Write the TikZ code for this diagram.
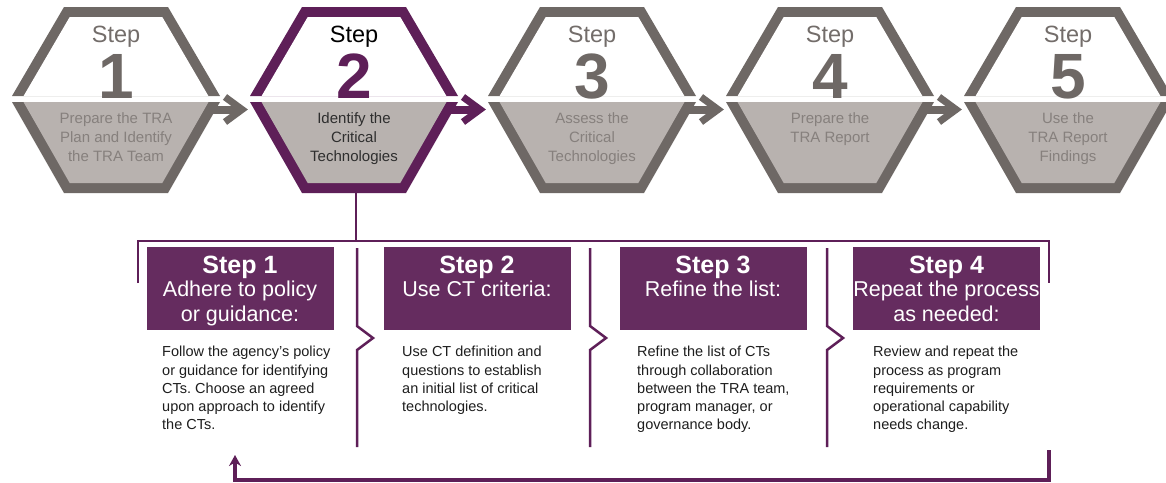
\documentclass[tikz,border=0pt]{standalone}
\usepackage{fontspec}
\setmainfont{Liberation Sans}
\usetikzlibrary{arrows.meta}
\definecolor{hgray}{HTML}{6E6865}
\definecolor{hfill}{HTML}{B8B2AF}
\definecolor{htext}{HTML}{86807D}
\definecolor{hstep}{HTML}{736D6A}
\definecolor{purp}{HTML}{5E1F58}
\definecolor{boxp}{HTML}{652C5F}
\definecolor{bodyc}{HTML}{1E1E1E}
\frenchspacing
\tikzset{
  hstepfont/.style={font=\fontsize{23.5}{26}\selectfont, inner sep=0, anchor=base},
  hnumfont/.style={font=\fontsize{64}{64}\selectfont\bfseries, inner sep=0, anchor=base},
  hdesc/.style={font=\fontsize{15}{19}\selectfont, inner sep=0, anchor=north, align=center},
  pline/.style={draw=purp, line width=2.5pt},
  loopline/.style={draw=purp, line width=3.5pt},
  cbox/.style={fill=boxp, minimum width=187pt, minimum height=83pt, inner sep=0},
  btitle/.style={font=\fontsize{25}{25}\selectfont\bfseries, text=white, inner sep=0, anchor=base},
  bsub/.style={font=\fontsize{21.5}{24.5}\selectfont, text=white, inner sep=0, anchor=north, align=center},
  body/.style={font=\fontsize{14.5}{18.3}\selectfont, text=bodyc, inner sep=0, anchor=north west, align=left}
}
\begin{document}
\begin{tikzpicture}[x=1pt,y=-1pt]
\clip (0,0) rectangle (1166,482);
\fill[white] (0,0) rectangle (1166,482);
% hexagons
\foreach \i/\c/\bc/\sc/\nc/\dc/\desc in {
  1/116/hgray/hstep/hgray/htext/{Prepare the TRA\\Plan and Identify\\the TRA Team},
  2/354/purp/black/purp/black!82/{Identify the\\Critical\\Technologies},
  3/592/hgray/hstep/hgray/htext/{Assess the\\Critical\\Technologies},
  4/830/hgray/hstep/hgray/htext/{Prepare the\\TRA Report},
  5/1068/hgray/hstep/hgray/htext/{Use the\\TRA Report\\Findings}}{
  \fill[\bc] (\c-52,7) -- (\c+52,7) -- (\c+104,96) -- (\c-104,96) -- cycle;
  \fill[white] (\c-46.3,17) -- (\c+46.3,17) -- (\c+92.4,96) -- (\c-92.4,96) -- cycle;
  \fill[\bc] (\c-104,102) -- (\c+104,102) -- (\c+52,193) -- (\c-52,193) -- cycle;
  \fill[hfill] (\c-92.5,102) -- (\c+92.5,102) -- (\c+46.3,183) -- (\c-46.3,183) -- cycle;
  \node[hstepfont, text=\sc] (hs\i) at (\c,42) {Step};
  \node[hnumfont, text=\nc] (hn\i) at (\c,98) {\i};
  \node[hdesc, text=\dc] (hd\i) at (\c,112) {\desc};
}
% arrows between hexagons
\foreach \i/\c/\bc in {1/116/hgray, 2/354/purp, 3/592/hgray, 4/830/hgray}{
  \coordinate (as\i) at (\c+96,109.5);
  \coordinate (am\i) at (\c+122,109.5);
  \coordinate (at\i) at (\c+126,109.5);
  \coordinate (au\i) at (\c+109,97);
  \coordinate (ad\i) at (\c+109,122);
  \draw[\bc, line width=8pt] (as\i) -- (am\i);
  \draw[\bc, line width=7pt, line join=miter] (au\i) -- (at\i) -- (ad\i);
}
% stem and top bracket
\coordinate (h2b) at (356,193);
\coordinate (stj) at (356,241);
\coordinate (tl1) at (138,283);
\coordinate (tl2) at (138,241);
\coordinate (tr2) at (1049,241);
\coordinate (tr1) at (1049,283);
\draw[pline] (h2b) -- (stj);
\draw[pline, line join=miter] (tl1) -- (tl2) -- (tr2) -- (tr1);
% separators with chevrons
\foreach \x in {357,590,827}{
  \draw[pline, line join=miter] (\x,248) -- (\x,326) -- (\x+16,338) -- (\x,350) -- (\x,447);
}
% boxes
\node[cbox] (b1) at (240,288.5) {};
\node[cbox] (b2) at (477,288.5) {};
\node[cbox] (b3) at (713,288.5) {};
\node[cbox] (b4) at (946.5,288.5) {};
\node[btitle] (b1t) at (240,273) {Step 1};
\node[btitle] (b2t) at (477,273) {Step 2};
\node[btitle] (b3t) at (713,273) {Step 3};
\node[btitle] (b4t) at (946.5,273) {Step 4};
\node[bsub] (b1s) at (240,281) {Adhere to policy\\or guidance:};
\node[bsub] (b2s) at (477,281) {Use CT criteria:};
\node[bsub] (b3s) at (713,281) {Refine the list:};
\node[bsub] (b4s) at (946.5,281) {Repeat the process\\as needed:};
% body texts
\node[body] (t1) at (162,346) {Follow the agency’s policy\\or guidance for identifying\\CTs. Choose an agreed\\upon approach to identify\\the CTs.};
\node[body] (t2) at (402,346) {Use CT definition and\\questions to establish\\an initial list of critical\\technologies.};
\node[body] (t3) at (637,346) {Refine the list of CTs\\through collaboration\\between the TRA team,\\program manager, or\\governance body.};
\node[body] (t4) at (873,346) {Review and repeat the\\process as program\\requirements or\\operational capability\\needs change.};
% feedback loop
\coordinate (lr) at (1049,450);
\coordinate (lb) at (1049,480);
\coordinate (ll) at (235,480);
\coordinate (la) at (235,455);
\draw[loopline, line join=miter, -{Stealth[length=11pt,width=12pt]}] (lr) -- (lb) -- (ll) -- (la);
\end{tikzpicture}
\end{document}
